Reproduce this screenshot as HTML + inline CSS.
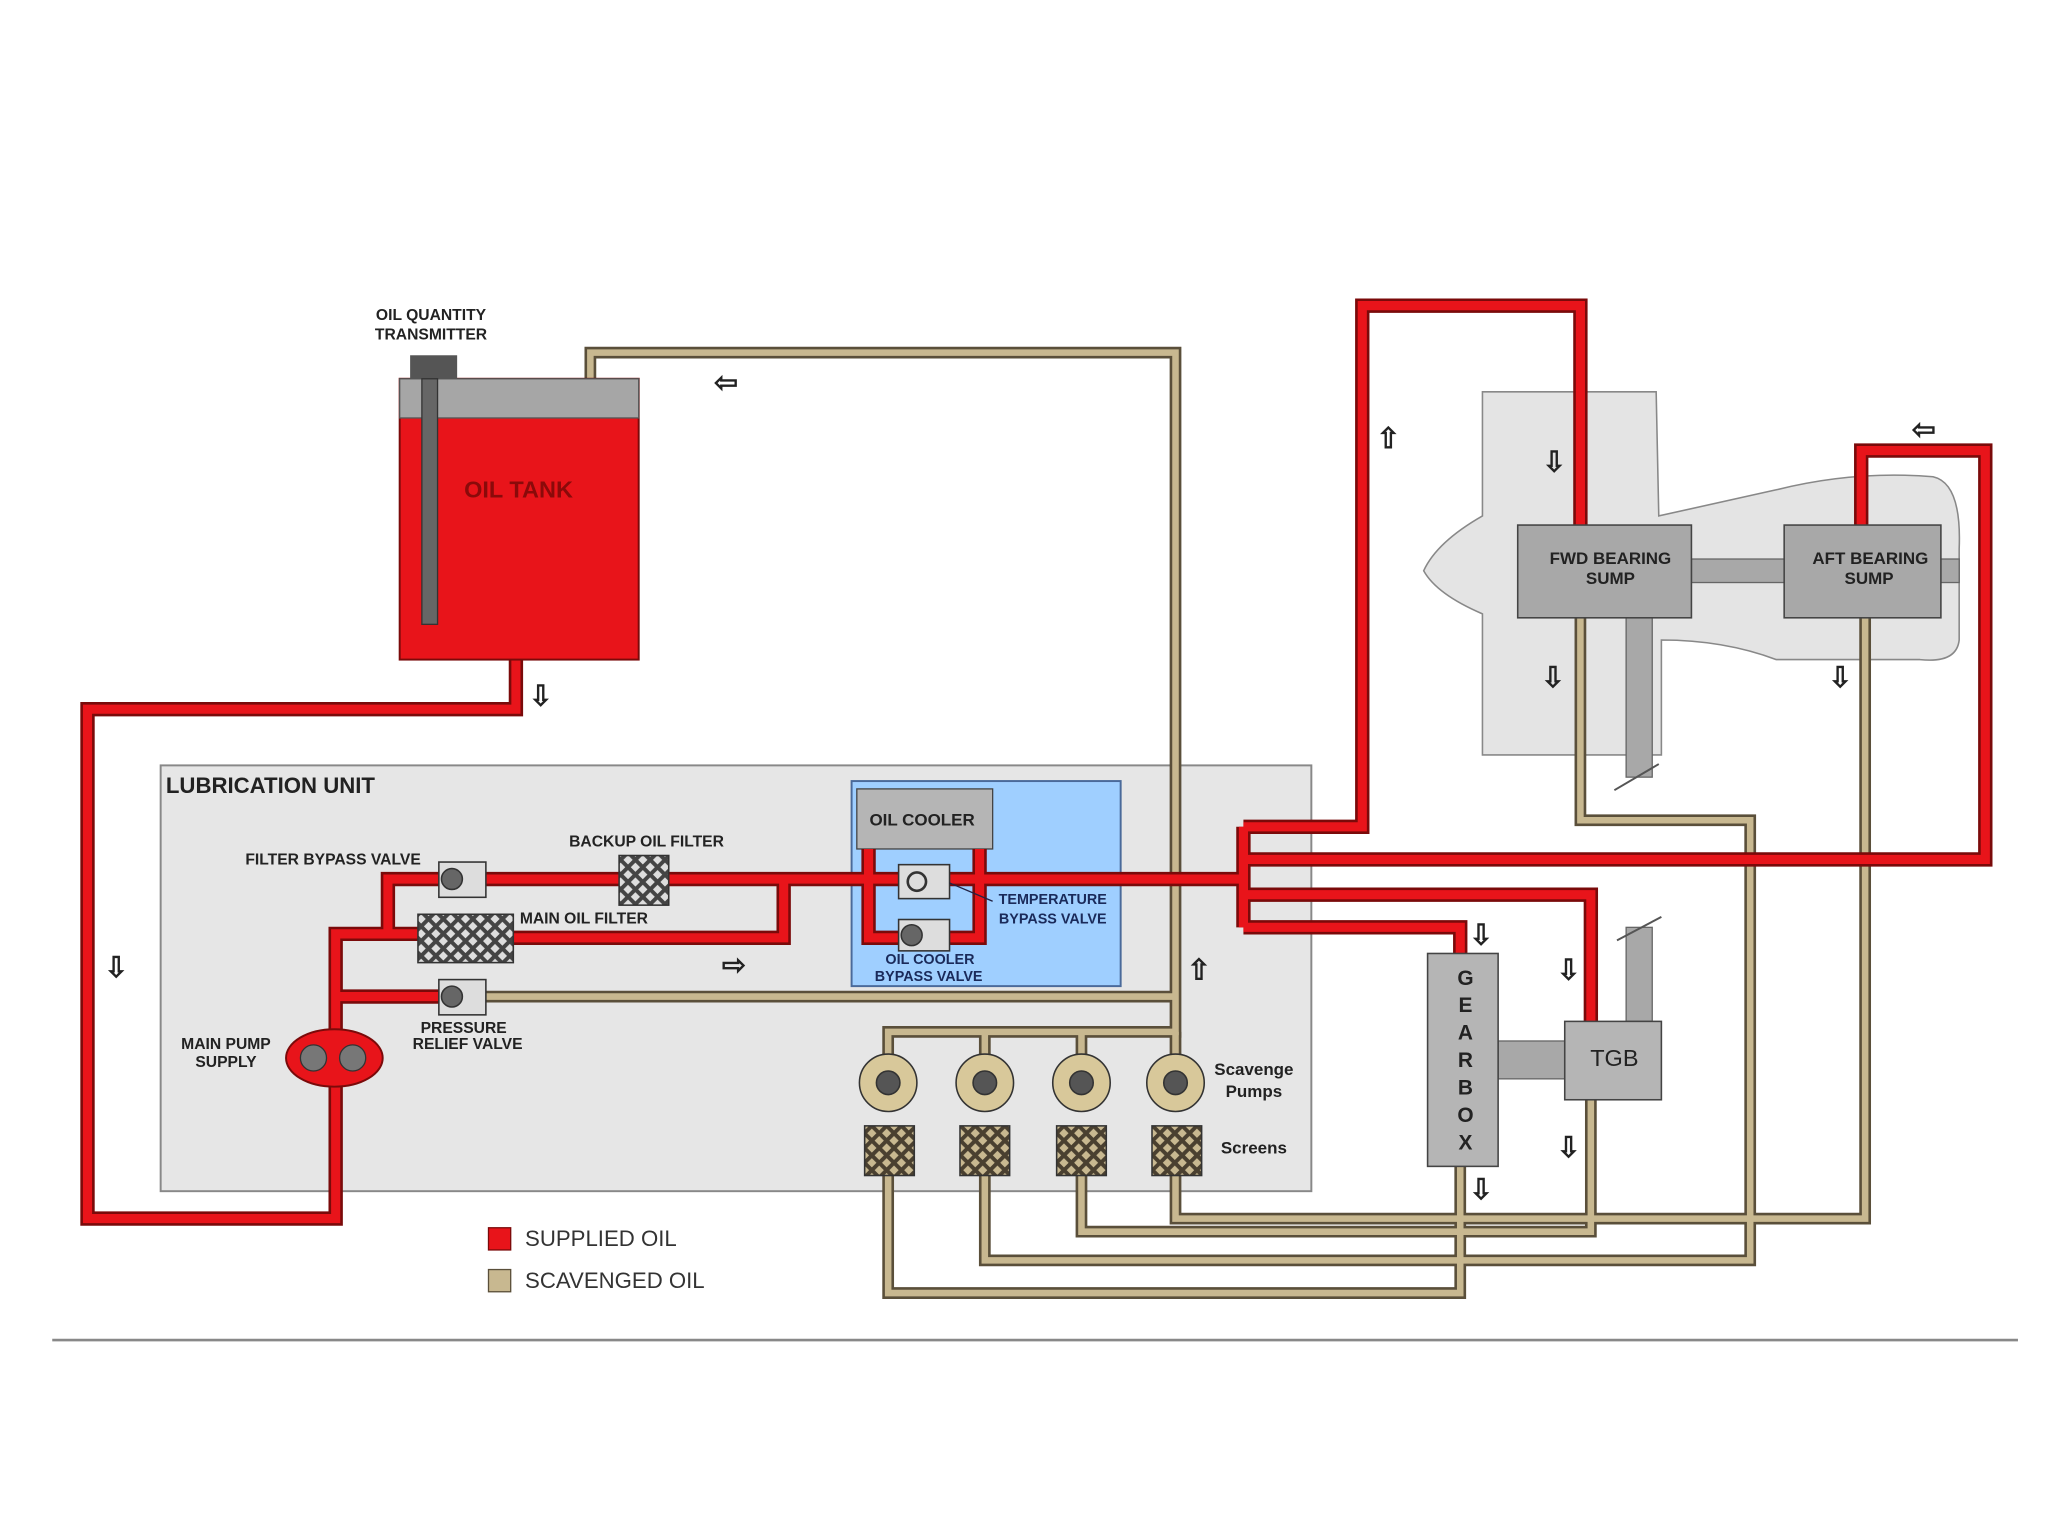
<!DOCTYPE html>
<html><head><meta charset="utf-8"><style>
html,body{margin:0;padding:0;background:#fff;}
svg{display:block;}
text{font-family:"Liberation Sans",sans-serif;font-weight:bold;fill:#222;}
</style></head><body>
<svg width="2048" height="1536" viewBox="0 0 1568 1176" preserveAspectRatio="none" xmlns="http://www.w3.org/2000/svg">
<defs>
<pattern id="hx" width="8" height="8" patternUnits="userSpaceOnUse" patternTransform="rotate(45)">
<rect width="8" height="8" fill="#ddd"/><rect width="3" height="8" fill="#444"/><rect width="8" height="3" fill="#444"/>
</pattern>
<pattern id="hxt" width="8" height="8" patternUnits="userSpaceOnUse" patternTransform="rotate(45)">
<rect width="8" height="8" fill="#c8b890"/><rect width="3" height="8" fill="#4a4030"/><rect width="8" height="3" fill="#4a4030"/>
</pattern>
</defs>
<rect width="1568" height="1176" fill="#fff"/>

<path d="M1135,300 L1268,300 L1270,395 L1360,375 Q1420,360 1480,365 Q1502,370 1500,420 L1500,490 Q1498,508 1470,505 L1360,505 Q1320,490 1272,490 L1272,578 L1135,578 L1135,470 Q1100,455 1090,437 Q1100,415 1135,395 Z" fill="#e4e4e4" stroke="#888" stroke-width="1.2"/>
<rect x="1295" y="428" width="72" height="18" fill="#a8a8a8" stroke="#666"/>
<rect x="1486" y="428" width="14" height="18" fill="#a8a8a8" stroke="#666"/>
<rect x="1245" y="473" width="20" height="122" fill="#a8a8a8" stroke="#666"/>
<line x1="1236" y1="605" x2="1270" y2="585" stroke="#555" stroke-width="1.5"/>

<rect x="123" y="586" width="881" height="326" fill="#e6e6e6" stroke="#888" stroke-width="1.5"/>
<text x="127" y="607" font-size="17">LUBRICATION UNIT</text>

<rect x="652" y="598" width="206" height="157" fill="#9fcfff" stroke="#4a6a9a" stroke-width="1.5"/>
<rect x="656" y="604" width="104" height="46" fill="#b5b5b5" stroke="#444"/>
<text x="706" y="632" font-size="13" text-anchor="middle">OIL COOLER</text>

<g fill="none">
<g stroke="#5a4f3a" stroke-width="9">
<path d="M452,292 V270 H900 V790 H680 V812"/>
<path d="M754,812 V790"/><path d="M828,812 V790"/><path d="M900,812 V790"/>
<path d="M372,763 H900"/>
<path d="M680,900 V990 H1118 V893"/>
<path d="M754,900 V965 H1340 V628 H1210 V473"/>
<path d="M828,900 V943 H1218 V842"/>
<path d="M900,900 V933 H1428 V473"/>
</g>
<g stroke="#c8b890" stroke-width="5">
<path d="M452,292 V270 H900 V790 H680 V812"/>
<path d="M754,812 V790"/><path d="M828,812 V790"/><path d="M900,812 V790"/>
<path d="M372,763 H900"/>
<path d="M680,900 V990 H1118 V893"/>
<path d="M754,900 V965 H1340 V628 H1210 V473"/>
<path d="M828,900 V943 H1218 V842"/>
<path d="M900,900 V933 H1428 V473"/>
</g>
</g>

<g fill="none">
<g stroke="#7a0a0a" stroke-width="11">
<path d="M395,500 V543 H67 V933 H257 V715 H320"/>
<path d="M257,763 H340"/>
<path d="M297,715 V673 H340"/>
<path d="M372,673 H952"/>
<path d="M393,718 H600 V673"/>
<path d="M665,650 V718 H690"/><path d="M750,650 V718 H727"/>
<path d="M952,633 V710"/>
<path d="M952,658 H1520 V345 H1425 V405"/>
<path d="M952,633 H1043 V234 H1210 V405"/>
<path d="M952,685 H1218 V783"/>
<path d="M952,710 H1118 V730"/>
</g>
<g stroke="#e8141a" stroke-width="7">
<path d="M395,500 V543 H67 V933 H257 V715 H320"/>
<path d="M257,763 H340"/>
<path d="M297,715 V673 H340"/>
<path d="M372,673 H952"/>
<path d="M393,718 H600 V673"/>
<path d="M665,650 V718 H690"/><path d="M750,650 V718 H727"/>
<path d="M952,633 V710"/>
<path d="M952,658 H1520 V345 H1425 V405"/>
<path d="M952,633 H1043 V234 H1210 V405"/>
<path d="M952,685 H1218 V783"/>
<path d="M952,710 H1118 V730"/>
</g>
</g>

<rect x="306" y="290" width="183" height="215" fill="#e8141a" stroke="#7a0a0a" stroke-width="1.5"/>
<rect x="306" y="290" width="183" height="30" fill="#a6a6a6" stroke="#555"/>
<rect x="314" y="272" width="36" height="18" fill="#555"/>
<rect x="323" y="290" width="12" height="188" fill="#666" stroke="#333"/>
<text x="397" y="381" font-size="18" text-anchor="middle" style="fill:#8a0a0a">OIL TANK</text>
<text x="330" y="245" font-size="12" text-anchor="middle">OIL QUANTITY</text>
<text x="330" y="260" font-size="12" text-anchor="middle">TRANSMITTER</text>

<g stroke="#333" stroke-width="1.2">
<rect x="336" y="660" width="36" height="27" fill="#ddd"/><circle cx="346" cy="673" r="8" fill="#666"/>
<rect x="336" y="750" width="36" height="27" fill="#ddd"/><circle cx="346" cy="763" r="8" fill="#666"/>
<rect x="474" y="655" width="38" height="38" fill="url(#hx)"/>
<rect x="320" y="700" width="73" height="37" fill="url(#hx)"/>
<rect x="688" y="662" width="39" height="26" fill="#ddd"/><circle cx="702" cy="675" r="7" fill="none" stroke-width="2"/>
<rect x="688" y="704" width="39" height="24" fill="#ddd"/><circle cx="698" cy="716" r="8" fill="#666"/>
</g>
<line x1="727" y1="676" x2="760" y2="690" stroke="#224" stroke-width="1"/>
<text x="255" y="662" font-size="12" text-anchor="middle">FILTER BYPASS VALVE</text>
<text x="495" y="648" font-size="12" text-anchor="middle">BACKUP  OIL  FILTER</text>
<text x="398" y="707" font-size="12">MAIN OIL FILTER</text>
<text x="355" y="791" font-size="12" text-anchor="middle">PRESSURE</text>
<text x="358" y="803" font-size="12" text-anchor="middle">RELIEF   VALVE</text>
<text x="806" y="692" font-size="11" text-anchor="middle" style="fill:#1a2a5a">TEMPERATURE</text>
<text x="806" y="707" font-size="11" text-anchor="middle" style="fill:#1a2a5a">BYPASS VALVE</text>
<text x="712" y="738" font-size="11" text-anchor="middle" style="fill:#1a2a5a">OIL      COOLER</text>
<text x="711" y="751" font-size="11" text-anchor="middle" style="fill:#1a2a5a">BYPASS VALVE</text>

<ellipse cx="256" cy="810" rx="37" ry="22" fill="#e8141a" stroke="#7a0a0a" stroke-width="1.5"/>
<circle cx="240" cy="810" r="10" fill="#777" stroke="#333"/><circle cx="270" cy="810" r="10" fill="#777" stroke="#333"/>
<text x="173" y="803" font-size="12" text-anchor="middle">MAIN PUMP</text>
<text x="173" y="817" font-size="12" text-anchor="middle">SUPPLY</text>

<g stroke="#333" stroke-width="1.2">
<circle cx="680" cy="829" r="22" fill="#d8c89a"/><circle cx="680" cy="829" r="9" fill="#555"/>
<circle cx="754" cy="829" r="22" fill="#d8c89a"/><circle cx="754" cy="829" r="9" fill="#555"/>
<circle cx="828" cy="829" r="22" fill="#d8c89a"/><circle cx="828" cy="829" r="9" fill="#555"/>
<circle cx="900" cy="829" r="22" fill="#d8c89a"/><circle cx="900" cy="829" r="9" fill="#555"/>
<rect x="662" y="862" width="38" height="38" fill="url(#hxt)"/>
<rect x="735" y="862" width="38" height="38" fill="url(#hxt)"/>
<rect x="809" y="862" width="38" height="38" fill="url(#hxt)"/>
<rect x="882" y="862" width="38" height="38" fill="url(#hxt)"/>
</g>
<text x="960" y="823" font-size="13" text-anchor="middle">Scavenge</text>
<text x="960" y="840" font-size="13" text-anchor="middle">Pumps</text>
<text x="960" y="883" font-size="13" text-anchor="middle">Screens</text>

<rect x="1162" y="402" width="133" height="71" fill="#a8a8a8" stroke="#444" stroke-width="1.2"/>
<rect x="1366" y="402" width="120" height="71" fill="#a8a8a8" stroke="#444" stroke-width="1.2"/>
<text x="1233" y="432" font-size="13" text-anchor="middle">FWD  BEARING</text>
<text x="1233" y="447" font-size="13" text-anchor="middle">SUMP</text>
<text x="1432" y="432" font-size="13" text-anchor="middle">AFT  BEARING</text>
<text x="1431" y="447" font-size="13" text-anchor="middle">SUMP</text>

<rect x="1147" y="797" width="51" height="29" fill="#a8a8a8" stroke="#666"/>
<rect x="1245" y="710" width="20" height="72" fill="#a8a8a8" stroke="#666"/>
<line x1="1238" y1="720" x2="1272" y2="702" stroke="#555" stroke-width="1.5"/>
<rect x="1093" y="730" width="54" height="163" fill="#b5b5b5" stroke="#444" stroke-width="1.2"/>
<rect x="1198" y="782" width="74" height="60" fill="#b5b5b5" stroke="#444" stroke-width="1.2"/>
<text x="1236" y="816" font-size="18" text-anchor="middle" style="font-weight:normal">TGB</text>
<g font-size="16" text-anchor="middle" style="font-weight:normal">
<text x="1122" y="754">G</text><text x="1122" y="775">E</text><text x="1122" y="796">A</text><text x="1122" y="817">R</text><text x="1122" y="838">B</text><text x="1122" y="859">O</text><text x="1122" y="880">X</text>
</g>

<g font-size="22" text-anchor="middle" style="font-weight:normal;fill:#222">
<text x="556" y="300">⇦</text>
<text x="414" y="540">⇩</text>
<text x="89" y="748">⇩</text>
<text x="562" y="746">⇨</text>
<text x="918" y="750">⇧</text>
<text x="1063" y="343">⇧</text>
<text x="1190" y="361">⇩</text>
<text x="1189" y="526">⇩</text>
<text x="1409" y="526">⇩</text>
<text x="1473" y="336">⇦</text>
<text x="1134" y="723">⇩</text>
<text x="1201" y="750">⇩</text>
<text x="1201" y="886">⇩</text>
<text x="1134" y="918">⇩</text>
</g>

<rect x="374" y="940" width="17" height="17" fill="#e8141a" stroke="#7a0a0a"/>
<rect x="374" y="972" width="17" height="17" fill="#c8b890" stroke="#5a4f3a"/>
<text x="402" y="954" font-size="17" style="font-weight:normal;fill:#333">SUPPLIED OIL</text>
<text x="402" y="986" font-size="17" style="font-weight:normal;fill:#333">SCAVENGED OIL</text>

<line x1="40" y1="1026" x2="1545" y2="1026" stroke="#888" stroke-width="2"/>
</svg>
</body></html>
